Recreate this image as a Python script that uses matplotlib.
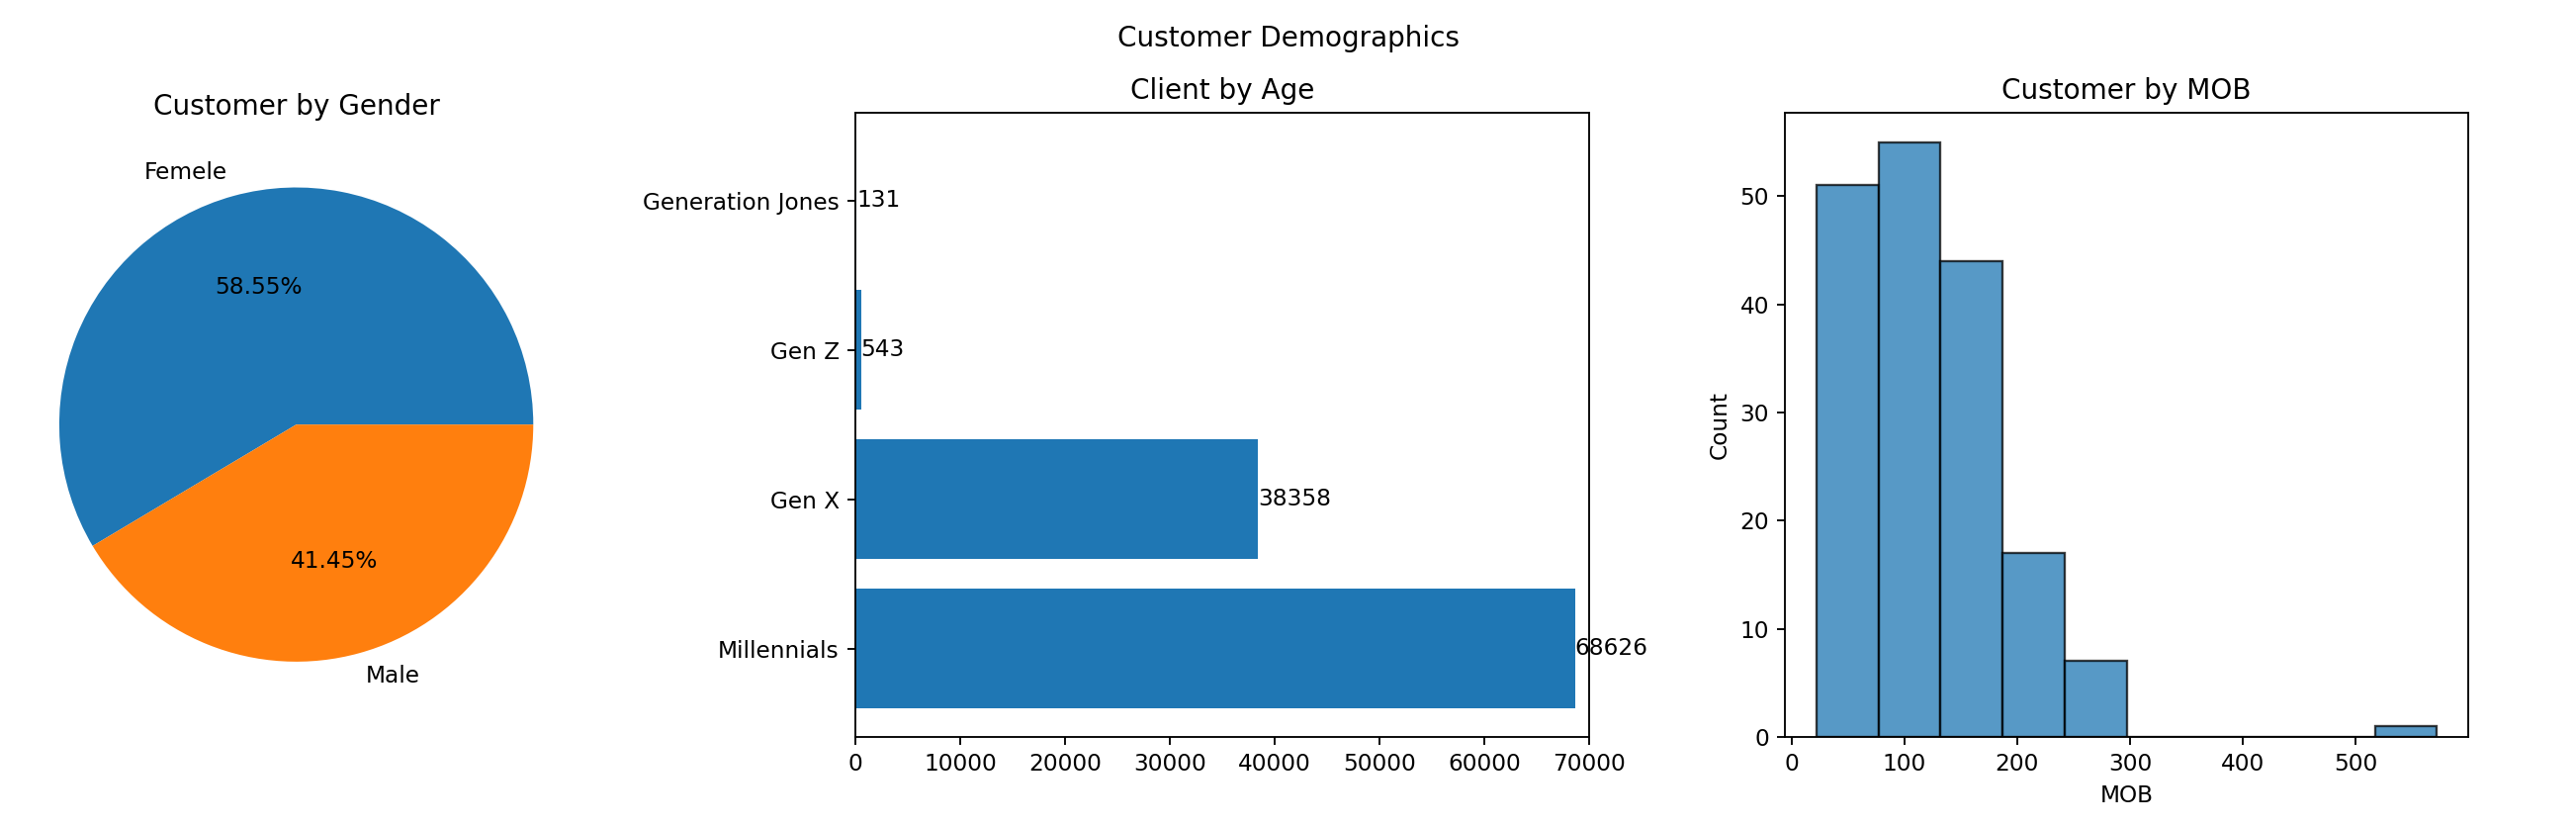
import matplotlib
matplotlib.use("Agg")
import matplotlib.pyplot as plt
import numpy as np

# gender split
gender_labels = ["Femele", "Male"]
gender_share = [58.55, 41.45]

# age generations
age_groups = ["Millennials", "Gen X", "Gen Z", "Generation Jones"]
age_counts = [68626, 38358, 543, 131]

# MOB histogram (bin edges and counts)
mob_edges = [22, 77, 132, 187, 242, 297, 352, 407, 462, 517, 572]
mob_counts = [51, 55, 44, 17, 7, 0, 0, 0, 0, 1]

fig = plt.figure(figsize=(15.6, 5), dpi=167)
fig.suptitle("Customer Demographics", y=0.97)

ax1 = fig.add_axes([0.0, 0.108, 0.23, 0.756])
ax1.pie(gender_share, labels=gender_labels, autopct="%.2f%%")
ax1.set_title("Customer by Gender")

ax2 = fig.add_axes([0.332, 0.108, 0.285, 0.756])
bars = ax2.barh(age_groups, age_counts)
ax2.bar_label(bars)
ax2.set_xlim(0, 70000)
ax2.set_title("Client by Age")

ax3 = fig.add_axes([0.693, 0.108, 0.265, 0.756])
ax3.hist(mob_edges[:-1], bins=mob_edges, weights=mob_counts,
         color="#1f77b4", alpha=0.75, edgecolor="black")
ax3.set_xlabel("MOB")
ax3.set_ylabel("Count")
ax3.set_title("Customer by MOB")

fig.savefig("out.png")
